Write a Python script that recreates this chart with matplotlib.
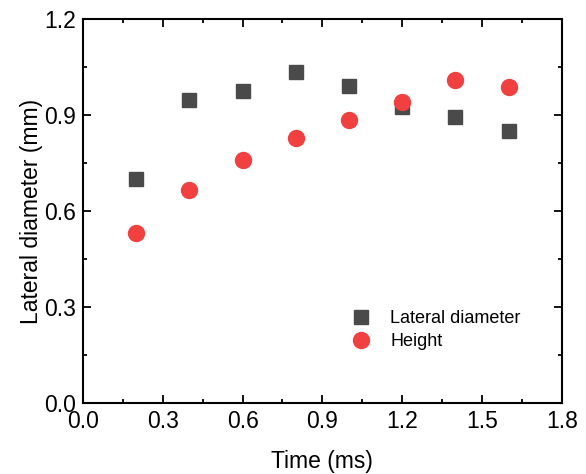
import numpy as np
import matplotlib.pyplot as plt
from matplotlib.ticker import MultipleLocator

plt.rcParams['font.family'] = ['Liberation Sans', 'DejaVu Sans']

# data
tiempo = [0.2, 0.4, 0.6, 0.8, 1.0, 1.2, 1.4, 1.6]
diametro = [0.70, 0.947, 0.975, 1.034, 0.99, 0.925, 0.894, 0.85]
altura = [0.531, 0.666, 0.759, 0.828, 0.884, 0.941, 1.009, 0.988]

fig = plt.figure(figsize=(5.86, 4.74), dpi=100)
ax = fig.add_axes([0.1416, 0.1498, 0.817, 0.810])

ax.plot(tiempo, diametro, 's', color='#4a4a4a', markersize=10, linestyle='none', label='Lateral diameter')
ax.plot(tiempo, altura, 'o', color='#f04040', markersize=11.5, linestyle='none', label='Height')

ax.set_xlim(0, 1.8)
ax.set_ylim(0, 1.2)
ax.xaxis.set_major_locator(MultipleLocator(0.3))
ax.xaxis.set_minor_locator(MultipleLocator(0.15))
ax.yaxis.set_major_locator(MultipleLocator(0.3))
ax.yaxis.set_minor_locator(MultipleLocator(0.15))
ax.xaxis.set_major_formatter(plt.FormatStrFormatter('%.1f'))
ax.yaxis.set_major_formatter(plt.FormatStrFormatter('%.1f'))

ax.tick_params(which='both', direction='in', top=True, right=True, width=1.3, labelsize=16.5)
ax.tick_params(which='major', length=5.5, pad=5)
ax.tick_params(which='minor', length=3)
for s in ax.spines.values():
    s.set_linewidth(1.5)

ax.set_xlabel('Time (ms)', fontsize=16.5, labelpad=12)
ax.set_ylabel('Lateral diameter (mm)', fontsize=16.5, labelpad=1)

ax.legend(loc='center left', bbox_to_anchor=(0.51, 0.19), frameon=False, fontsize=13,
          handletextpad=0.6, labelspacing=0.35)

fig.savefig('out.png', dpi=100)
